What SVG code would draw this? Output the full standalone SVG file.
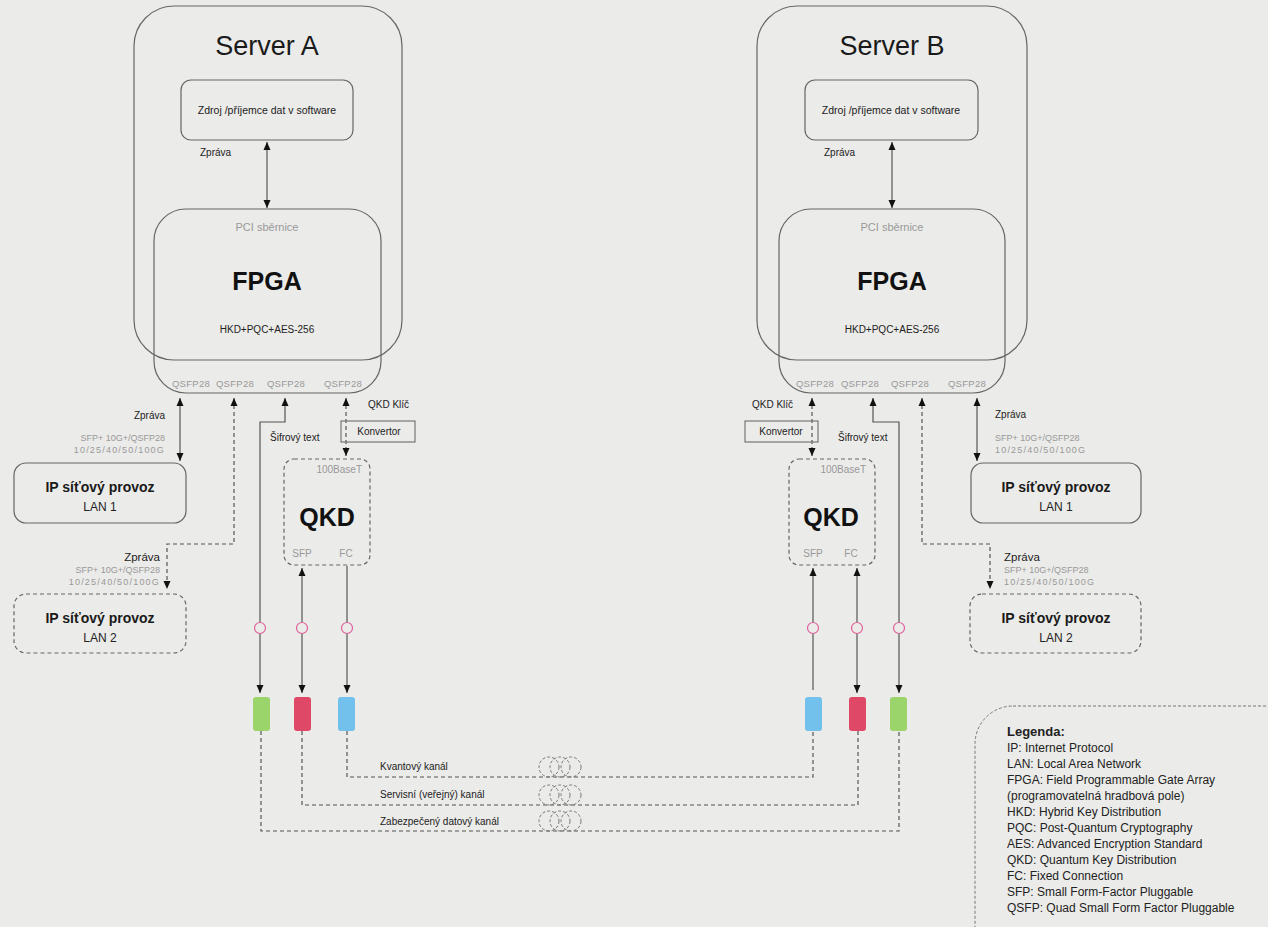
<svg xmlns="http://www.w3.org/2000/svg" width="1268" height="927" viewBox="0 0 1268 927">
<defs>
<marker id="ah" viewBox="0 0 8 8" refX="8" refY="4" markerWidth="8" markerHeight="8" markerUnits="userSpaceOnUse" orient="auto-start-reverse">
<path d="M0,0.5 L8,4 L0,7.5 z" fill="#111"/>
</marker>
<style>
text{font-family:"Liberation Sans",Arial,sans-serif;fill:#222}
.box{fill:none;stroke:#666;stroke-width:1.2}
.dbox{fill:none;stroke:#666;stroke-width:1.2;stroke-dasharray:4 3}
.ln{fill:none;stroke:#555;stroke-width:1.2}
.dl{fill:none;stroke:#555;stroke-width:1.2;stroke-dasharray:4 3}
.title{font-size:27px;text-anchor:middle;fill:#1a1a1a}
.sw{font-size:10.5px;text-anchor:middle}
.sm{font-size:10px}
.gray{fill:#999}
.big{font-size:25px;font-weight:bold;text-anchor:middle;fill:#111}
.ip{font-size:14px;font-weight:bold;text-anchor:middle;fill:#1a1a1a}
.lan{font-size:12px;text-anchor:middle}
.q{font-size:9.5px;fill:#999;text-anchor:middle;letter-spacing:0.3px}
.spec{font-size:9px;fill:#999}
.num{font-size:9px;fill:#999;letter-spacing:1.2px}
.pc{fill:#ebebe9;stroke:#e0609a;stroke-width:1.2}
.coil{fill:none;stroke:#777;stroke-width:1;stroke-dasharray:3 2}
.leg{font-size:12px;fill:#222}
</style>
</defs>
<rect x="0" y="0" width="1268" height="927" fill="#ebebe9"/>

<g id="connectors">
<!-- Server A -->
<line class="ln" x1="267" y1="142" x2="267" y2="208" marker-start="url(#ah)" marker-end="url(#ah)"/>
<line class="ln" x1="180" y1="398" x2="180" y2="461" marker-start="url(#ah)" marker-end="url(#ah)"/>
<polyline class="dl" points="234,398 234,544 167,544 167,589" marker-start="url(#ah)" marker-end="url(#ah)"/>
<polyline class="ln" points="285,398 285,422 260,422 260,693" marker-start="url(#ah)" marker-end="url(#ah)"/>
<line class="dl" x1="346" y1="398" x2="346" y2="456" marker-start="url(#ah)" marker-end="url(#ah)"/>
<line class="ln" x1="302" y1="568" x2="302" y2="693" marker-start="url(#ah)" marker-end="url(#ah)"/>
<line class="ln" x1="347" y1="566" x2="347" y2="693" marker-end="url(#ah)"/>
<!-- Server B -->
<line class="ln" x1="892" y1="142" x2="892" y2="208" marker-start="url(#ah)" marker-end="url(#ah)"/>
<line class="dl" x1="812" y1="398" x2="812" y2="456" marker-start="url(#ah)" marker-end="url(#ah)"/>
<polyline class="ln" points="873,398 873,422 899,422 899,693" marker-start="url(#ah)" marker-end="url(#ah)"/>
<polyline class="dl" points="922,398 922,544 990,544 990,589" marker-start="url(#ah)" marker-end="url(#ah)"/>
<line class="ln" x1="977" y1="398" x2="977" y2="461" marker-start="url(#ah)" marker-end="url(#ah)"/>
<line class="ln" x1="813" y1="568" x2="813" y2="690" marker-start="url(#ah)"/>
<line class="ln" x1="857" y1="568" x2="857" y2="693" marker-start="url(#ah)" marker-end="url(#ah)"/>
<!-- channels -->
<polyline class="dl" points="347,731 347,777 813,777 813,731"/>
<polyline class="dl" points="302,731 302,805 858,805 858,731"/>
<polyline class="dl" points="261,731 261,831 899,831 899,731"/>
<!-- pink circles -->
<circle class="pc" cx="260" cy="628" r="5.5"/>
<circle class="pc" cx="302" cy="628" r="5.5"/>
<circle class="pc" cx="347" cy="628" r="5.5"/>
<circle class="pc" cx="813" cy="628" r="5.5"/>
<circle class="pc" cx="857" cy="628" r="5.5"/>
<circle class="pc" cx="899" cy="628" r="5.5"/>
<!-- coils -->
<circle class="coil" cx="549" cy="767" r="10"/>
<circle class="coil" cx="560" cy="767" r="10"/>
<circle class="coil" cx="571" cy="767" r="10"/>
<circle class="coil" cx="549" cy="795" r="10"/>
<circle class="coil" cx="560" cy="795" r="10"/>
<circle class="coil" cx="571" cy="795" r="10"/>
<circle class="coil" cx="549" cy="821" r="10"/>
<circle class="coil" cx="560" cy="821" r="10"/>
<circle class="coil" cx="571" cy="821" r="10"/>
<!-- labels -->
<text class="sm" x="200" y="156">Zpráva</text>
<text class="sm" x="824" y="156">Zpráva</text>
<text class="sm" x="165" y="419" text-anchor="end">Zpráva</text>
<text class="spec" x="165" y="441" text-anchor="end">SFP+ 10G+/QSFP28</text>
<text class="num" x="165" y="453" text-anchor="end">10/25/40/50/100G</text>
<text x="160" y="561" text-anchor="end" font-size="11.5">Zpráva</text>
<text class="spec" x="160" y="573" text-anchor="end">SFP+ 10G+/QSFP28</text>
<text class="num" x="160" y="585" text-anchor="end">10/25/40/50/100G</text>
<text class="sm" x="270" y="441">Šifrový text</text>
<text class="sm" x="368" y="408">QKD Klíč</text>
<text class="sm" x="752" y="408">QKD Klíč</text>
<text class="sm" x="838" y="441">Šifrový text</text>
<text class="sm" x="995" y="418">Zpráva</text>
<text class="spec" x="995" y="441">SFP+ 10G+/QSFP28</text>
<text class="num" x="995" y="453">10/25/40/50/100G</text>
<text x="1004" y="561" font-size="11.5">Zpráva</text>
<text class="spec" x="1004" y="573">SFP+ 10G+/QSFP28</text>
<text class="num" x="1004" y="585">10/25/40/50/100G</text>
<text class="sm" x="380" y="770" fill="#444">Kvantový kanál</text>
<text class="sm" x="380" y="798" fill="#444">Servisní (veřejný) kanál</text>
<text class="sm" x="380" y="825" fill="#444">Zabezpečený datový kanál</text>
</g>

<g id="serverA">
<rect class="box" x="134" y="6" width="268" height="354" rx="40"/>
<text class="title" x="267" y="55">Server A</text>
</g>
<g id="softwareA">
<rect class="box" x="181" y="80" width="172" height="60" rx="10"/>
<text class="sw" x="267" y="114">Zdroj /příjemce dat v software</text>
</g>
<g id="fpgaA">
<rect class="box" x="154" y="209" width="227" height="184" rx="32"/>
<text x="267" y="231" font-size="11" text-anchor="middle" class="gray">PCI sběrnice</text>
<text class="big" x="267" y="290">FPGA</text>
<text x="267" y="333" font-size="10" text-anchor="middle">HKD+PQC+AES-256</text>
<text class="q" x="191" y="387">QSFP28</text>
<text class="q" x="235" y="387">QSFP28</text>
<text class="q" x="286" y="387">QSFP28</text>
<text class="q" x="343" y="387">QSFP28</text>
</g>
<g id="lan1A">
<rect class="box" x="14" y="463" width="172" height="60" rx="12"/>
<text class="ip" x="100" y="492">IP síťový provoz</text>
<text class="lan" x="100" y="511">LAN 1</text>
</g>
<g id="lan2A">
<rect class="dbox" x="14" y="594" width="172" height="59" rx="12"/>
<text class="ip" x="100" y="623">IP síťový provoz</text>
<text class="lan" x="100" y="642">LAN 2</text>
</g>
<g id="konvA">
<rect x="341" y="421" width="74" height="21" fill="none" stroke="#777" stroke-width="1.2"/>
<text class="sm" x="379" y="435" text-anchor="middle">Konvertor</text>
</g>
<g id="qkdA">
<rect class="dbox" x="284" y="459" width="86" height="106" rx="10"/>
<text x="362" y="473" font-size="10" text-anchor="end" class="gray">100BaseT</text>
<text class="big" x="327" y="526">QKD</text>
<text x="302" y="557" font-size="10" text-anchor="middle" class="gray">SFP</text>
<text x="346" y="557" font-size="10" text-anchor="middle" class="gray">FC</text>
</g>
<g id="portsA">
<rect x="253" y="697" width="17" height="34" rx="3" fill="#9bd46b"/>
<rect x="294" y="697" width="17" height="34" rx="3" fill="#e04868"/>
<rect x="338" y="697" width="17" height="34" rx="3" fill="#72c0ec"/>
</g>

<g id="serverB">
<rect class="box" x="757" y="6" width="270" height="354" rx="40"/>
<text class="title" x="892" y="55">Server B</text>
</g>
<g id="softwareB">
<rect class="box" x="805" y="80" width="173" height="60" rx="10"/>
<text class="sw" x="891" y="114">Zdroj /příjemce dat v software</text>
</g>
<g id="fpgaB">
<rect class="box" x="779" y="209" width="226" height="184" rx="32"/>
<text x="892" y="231" font-size="11" text-anchor="middle" class="gray">PCI sběrnice</text>
<text class="big" x="892" y="290">FPGA</text>
<text x="892" y="333" font-size="10" text-anchor="middle">HKD+PQC+AES-256</text>
<text class="q" x="815" y="387">QSFP28</text>
<text class="q" x="860" y="387">QSFP28</text>
<text class="q" x="910" y="387">QSFP28</text>
<text class="q" x="967" y="387">QSFP28</text>
</g>
<g id="lan1B">
<rect class="box" x="971" y="463" width="170" height="60" rx="12"/>
<text class="ip" x="1056" y="492">IP síťový provoz</text>
<text class="lan" x="1056" y="511">LAN 1</text>
</g>
<g id="lan2B">
<rect class="dbox" x="970" y="594" width="171" height="59" rx="12"/>
<text class="ip" x="1056" y="623">IP síťový provoz</text>
<text class="lan" x="1056" y="642">LAN 2</text>
</g>
<g id="konvB">
<rect x="745" y="421" width="73" height="21" fill="none" stroke="#777" stroke-width="1.2"/>
<text class="sm" x="781" y="435" text-anchor="middle">Konvertor</text>
</g>
<g id="qkdB">
<rect class="dbox" x="789" y="459" width="86" height="106" rx="10"/>
<text x="866" y="473" font-size="10" text-anchor="end" class="gray">100BaseT</text>
<text class="big" x="831" y="526">QKD</text>
<text x="813" y="557" font-size="10" text-anchor="middle" class="gray">SFP</text>
<text x="851" y="557" font-size="10" text-anchor="middle" class="gray">FC</text>
</g>
<g id="portsB">
<rect x="805" y="697" width="17" height="34" rx="3" fill="#72c0ec"/>
<rect x="849" y="697" width="17" height="34" rx="3" fill="#e04868"/>
<rect x="890" y="697" width="17" height="34" rx="3" fill="#9bd46b"/>
</g>

<g id="legend">
<rect x="975" y="706" width="340" height="260" rx="38" fill="none" stroke="#777" stroke-width="1" stroke-dasharray="3 2"/>
<text x="1007" y="736" font-size="13" font-weight="bold" fill="#111">Legenda:</text>
<text class="leg" x="1007" y="752">IP: Internet Protocol</text>
<text class="leg" x="1007" y="768">LAN: Local Area Network</text>
<text class="leg" x="1007" y="784">FPGA: Field Programmable Gate Array</text>
<text class="leg" x="1007" y="800">(programovatelná hradbová pole)</text>
<text class="leg" x="1007" y="816">HKD: Hybrid Key Distribution</text>
<text class="leg" x="1007" y="832">PQC: Post-Quantum Cryptography</text>
<text class="leg" x="1007" y="848">AES: Advanced Encryption Standard</text>
<text class="leg" x="1007" y="864">QKD: Quantum Key Distribution</text>
<text class="leg" x="1007" y="880">FC: Fixed Connection</text>
<text class="leg" x="1007" y="896">SFP: Small Form-Factor Pluggable</text>
<text class="leg" x="1007" y="912">QSFP: Quad Small Form Factor Pluggable</text>
</g>
</svg>
